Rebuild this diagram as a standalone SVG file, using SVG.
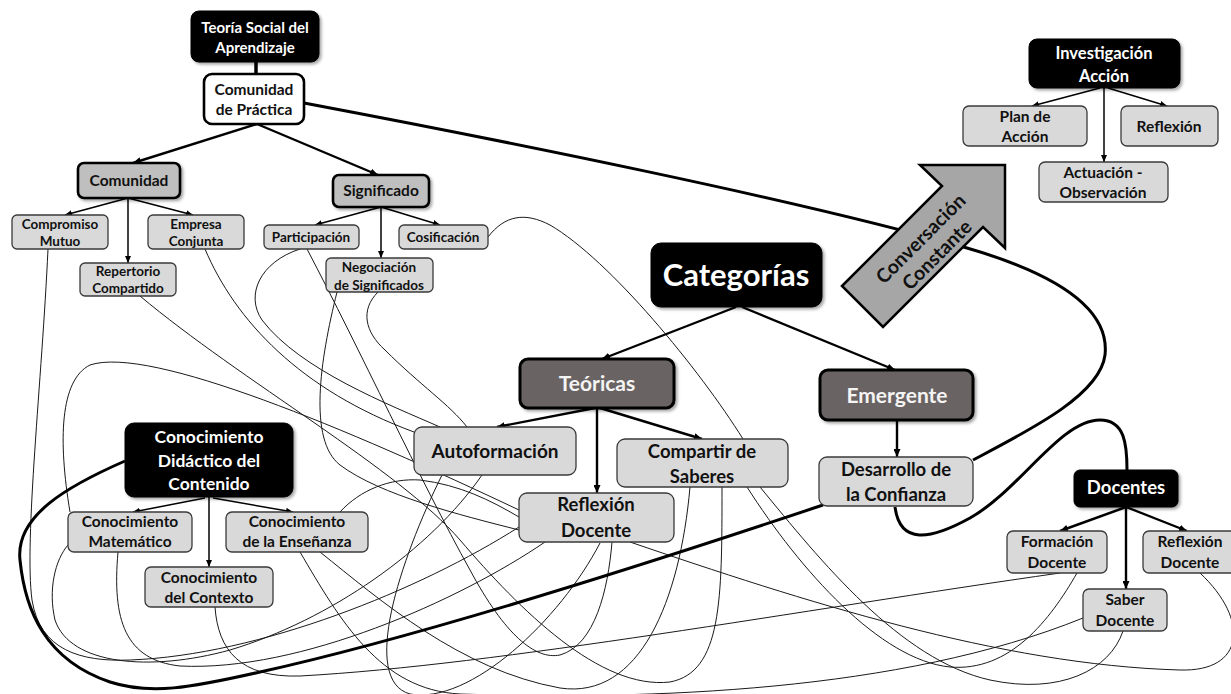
<svg xmlns="http://www.w3.org/2000/svg" width="1231" height="694" viewBox="0 0 1231 694">
  <defs>
    <marker id="arr" viewBox="0 0 8 7" refX="8" refY="3.5" markerWidth="8" markerHeight="7" markerUnits="userSpaceOnUse" orient="auto">
      <path d="M0,0 L8,3.5 L0,7 z" fill="#000"/>
    </marker>
    <marker id="arrS" viewBox="0 0 7 6" refX="7" refY="3" markerWidth="7" markerHeight="6" markerUnits="userSpaceOnUse" orient="auto">
      <path d="M0,0 L7,3 L0,6 z" fill="#000"/>
    </marker>
    <filter id="sh" x="-10%" y="-10%" width="125%" height="135%">
      <feDropShadow dx="2" dy="2" stdDeviation="1.5" flood-color="#000" flood-opacity="0.35"/>
    </filter>
  </defs>
  <style>
    text { font-family: Lato, "Liberation Sans", sans-serif; font-weight: 700; text-anchor: middle; }
    .leaf rect { fill: #d9d9d9; stroke: #3a3a3a; stroke-width: 1.3; }
    .leaf text { fill: #111; }
    .black rect { fill: #000; stroke: #000; stroke-width: 1; filter: url(#sh); }
    .black text { fill: #fff; }
    .mid rect { fill: #bfbfbf; stroke: #000; stroke-width: 2.6; filter: url(#sh); }
    .mid text { fill: #111; }
    .dark rect { fill: #6b6464; stroke: #000; stroke-width: 3; filter: url(#sh); }
    .dark text { fill: #f4f4f4; }
    .white rect { fill: #fff; stroke: #000; stroke-width: 2.6; }
    .white text { fill: #111; }
    .thin path { fill: none; stroke: #1a1a1a; stroke-width: 1; }
    .thick path { fill: none; stroke: #000; stroke-width: 3; }
    .tree line { stroke: #000; }
    .t1 { stroke-width: 2.4; marker-end: url(#arr); }
    .t2 { stroke-width: 1.5; marker-end: url(#arrS); }
  </style>

  <!-- loose thin links between categories -->
  <g id="links" class="thin">
    <path d="M48,249 C42,380 24,540 32,600 C40,650 80,662 130,660 C260,655 420,590 519,527"/>
    <path d="M140,296 C240,380 400,470 460,540 C520,610 600,690 670,682 C722,672 722,600 722,487"/>
    <path d="M205,249 C235,320 300,390 414,432"/>
    <path d="M70,512 C58,440 60,380 90,365 C150,345 350,430 519,510"/>
    <path d="M118,552 C112,620 125,660 180,666 C300,672 460,600 545,542"/>
    <path d="M215,607 C218,650 240,678 300,676 C500,665 800,610 1060,573"/>
    <path d="M300,552 C340,620 380,690 460,694 C650,700 900,692 1083,618"/>
    <path d="M320,552 C380,600 460,670 560,688 C640,700 680,600 690,487"/>
    <path d="M340,512 C360,490 390,478 420,480 C460,485 490,500 519,517"/>
    <path d="M300,249 C260,262 245,295 262,320 C300,370 390,405 440,427"/>
    <path d="M307,249 C360,350 420,480 470,570 C505,635 535,660 560,655 C595,645 608,590 612,542"/>
    <path d="M337,292 C320,360 308,440 340,465 C380,495 460,515 519,530"/>
    <path d="M378,292 C360,310 365,332 385,350 C420,385 450,405 467,427"/>
    <path d="M488,237 C505,215 525,212 550,225 C610,260 700,370 743,439"/>
    <path d="M482,475 C430,550 330,620 230,650 C150,672 70,665 55,620 C48,590 55,560 68,545"/>
    <path d="M442,475 C400,560 360,680 410,694 C470,705 560,620 600,543"/>
    <path d="M747,487 C800,570 880,660 950,667 C1010,672 1050,620 1077,573"/>
    <path d="M760,487 C820,560 900,660 990,680 C1060,695 1110,670 1123,631"/>
    <path d="M630,542 C800,600 1000,665 1180,670 C1245,672 1250,620 1200,573"/>
  </g>

  <!-- heavy links -->
  <g id="heavy" class="thick">
    <path d="M304,103 C500,140 800,200 967,248 C1060,275 1110,310 1105,355 C1100,395 1030,430 973,460"/>
    <path d="M125,461 C70,485 15,515 20,560 C25,610 45,660 110,682 C150,695 190,688 260,672 C400,641 620,573 823,505"/>
    <path d="M895,507 C900,545 930,540 970,518 C1020,490 1060,420 1100,420 C1125,420 1127,445 1127,470"/>
  </g>

  <!-- tree connectors -->
  <g id="connectors" class="tree">
    <line x1="256" y1="62" x2="256" y2="74" stroke-width="3.5"/>
    <line class="t1" x1="257" y1="124" x2="133" y2="163"/>
    <line class="t1" x1="257" y1="124" x2="378" y2="175"/>
    <line class="t2" x1="128" y1="198" x2="65" y2="215"/>
    <line class="t2" x1="128" y1="198" x2="128" y2="263"/>
    <line class="t2" x1="128" y1="198" x2="193" y2="215"/>
    <line class="t2" x1="381" y1="207" x2="315" y2="225"/>
    <line class="t2" x1="381" y1="207" x2="381" y2="258"/>
    <line class="t2" x1="381" y1="207" x2="440" y2="225"/>
    <line class="t1" x1="736" y1="307" x2="602" y2="359" stroke-width="3"/>
    <line class="t1" x1="742" y1="307" x2="895" y2="370" stroke-width="3"/>
    <line class="t1" x1="595" y1="408" x2="497" y2="427" stroke-width="2"/>
    <line class="t1" x1="597" y1="408" x2="597" y2="493" stroke-width="2"/>
    <line class="t1" x1="600" y1="408" x2="702" y2="439" stroke-width="2"/>
    <line class="t1" x1="897" y1="420" x2="897" y2="457" stroke-width="2"/>
    <line class="t1" x1="1126" y1="507" x2="1060" y2="531" stroke-width="2"/>
    <line class="t1" x1="1126" y1="507" x2="1126" y2="589" stroke-width="2"/>
    <line class="t1" x1="1126" y1="507" x2="1187" y2="531" stroke-width="2"/>
    <line class="t2" x1="205" y1="498" x2="133" y2="512"/>
    <line class="t2" x1="209" y1="497" x2="209" y2="567"/>
    <line class="t2" x1="213" y1="498" x2="293" y2="512"/>
    <line class="t2" x1="1100" y1="88" x2="1032" y2="106"/>
    <line class="t2" x1="1104" y1="88" x2="1104" y2="162"/>
    <line class="t2" x1="1108" y1="88" x2="1167" y2="106"/>
  </g>

  <!-- block arrow -->
  <g id="conversacion">
    <polygon points="842,286 942,186 920,165 1005,165 1005,248 983,227 883,327" fill="#a6a6a6" stroke="#000" stroke-width="2.5" stroke-linejoin="miter"/>
    <g transform="translate(929,247) rotate(-45)">
      <text x="0" y="-5" font-size="19.5" fill="#111">Conversación</text>
      <text x="0" y="18" font-size="19.5" fill="#111">Constante</text>
    </g>
  </g>

  <!-- nodes -->
  <g id="teoria" class="black">
    <rect x="191" y="11" width="128" height="51" rx="8"/>
    <text x="255" y="33" font-size="15">Teoría Social del</text>
    <text x="255" y="53" font-size="15">Aprendizaje</text>
  </g>
  <g id="comunidad-practica" class="white">
    <rect x="204" y="74" width="100" height="50" rx="8"/>
    <text x="254" y="95" font-size="15.5">Comunidad</text>
    <text x="254" y="115" font-size="15.5">de Práctica</text>
  </g>
  <g id="comunidad" class="mid">
    <rect x="78" y="163" width="102" height="35" rx="6"/>
    <text x="129" y="186" font-size="15.5">Comunidad</text>
  </g>
  <g id="significado" class="mid">
    <rect x="333" y="175" width="96" height="32" rx="6"/>
    <text x="381" y="196" font-size="15.5">Significado</text>
  </g>
  <g id="compromiso" class="leaf">
    <rect x="12" y="215" width="96" height="34" rx="5"/>
    <text x="60" y="229" font-size="13.5">Compromiso</text>
    <text x="60" y="246" font-size="13.5">Mutuo</text>
  </g>
  <g id="empresa" class="leaf">
    <rect x="148" y="215" width="96" height="34" rx="5"/>
    <text x="196" y="229" font-size="13.5">Empresa</text>
    <text x="196" y="246" font-size="13.5">Conjunta</text>
  </g>
  <g id="repertorio" class="leaf">
    <rect x="80" y="263" width="96" height="33" rx="5"/>
    <text x="128" y="276" font-size="13.5">Repertorio</text>
    <text x="128" y="293" font-size="13.5">Compartido</text>
  </g>
  <g id="participacion" class="leaf">
    <rect x="264" y="225" width="95" height="24" rx="5"/>
    <text x="311" y="242" font-size="13.5">Participación</text>
  </g>
  <g id="cosificacion" class="leaf">
    <rect x="399" y="225" width="89" height="24" rx="5"/>
    <text x="443" y="242" font-size="13.5">Cosificación</text>
  </g>
  <g id="negociacion" class="leaf">
    <rect x="326" y="258" width="107" height="34" rx="5"/>
    <text x="379" y="272" font-size="13.5">Negociación</text>
    <text x="379" y="290" font-size="13.5">de Significados</text>
  </g>
  <g id="categorias" class="black">
    <rect x="651" y="243" width="171" height="64" rx="10"/>
    <text x="736" y="286" font-size="31">Categorías</text>
  </g>
  <g id="teoricas" class="dark">
    <rect x="520" y="359" width="154" height="49" rx="8"/>
    <text x="597" y="391" font-size="21">Teóricas</text>
  </g>
  <g id="emergente" class="dark">
    <rect x="820" y="370" width="153" height="50" rx="8"/>
    <text x="897" y="403" font-size="21">Emergente</text>
  </g>
  <g id="autoformacion" class="leaf">
    <rect x="414" y="427" width="162" height="48" rx="8"/>
    <text x="495" y="458" font-size="19">Autoformación</text>
  </g>
  <g id="compartir" class="leaf">
    <rect x="617" y="439" width="171" height="48" rx="8"/>
    <text x="702" y="458" font-size="18.5">Compartir de</text>
    <text x="702" y="483" font-size="18.5">Saberes</text>
  </g>
  <g id="reflexion-docente" class="leaf">
    <rect x="519" y="493" width="155" height="49" rx="8"/>
    <text x="596" y="511" font-size="18.5">Reflexión</text>
    <text x="596" y="537" font-size="18.5">Docente</text>
  </g>
  <g id="desarrollo" class="leaf">
    <rect x="819" y="457" width="154" height="49" rx="8"/>
    <text x="896" y="476" font-size="18.5">Desarrollo de</text>
    <text x="896" y="501" font-size="18.5">la Confianza</text>
  </g>
  <g id="docentes" class="black">
    <rect x="1074" y="470" width="104" height="37" rx="6"/>
    <text x="1126" y="494" font-size="18.5">Docentes</text>
  </g>
  <g id="formacion-docente" class="leaf">
    <rect x="1007" y="531" width="100" height="42" rx="6"/>
    <text x="1057" y="547" font-size="15.5">Formación</text>
    <text x="1057" y="568" font-size="15.5">Docente</text>
  </g>
  <g id="reflexion-docentes" class="leaf">
    <rect x="1143" y="531" width="96" height="42" rx="6"/>
    <text x="1190" y="547" font-size="15.5">Reflexión</text>
    <text x="1190" y="568" font-size="15.5">Docente</text>
  </g>
  <g id="saber-docente" class="leaf">
    <rect x="1083" y="589" width="84" height="42" rx="6"/>
    <text x="1125" y="605" font-size="15.5">Saber</text>
    <text x="1125" y="626" font-size="15.5">Docente</text>
  </g>
  <g id="cdc" class="black">
    <rect x="125" y="423" width="168" height="74" rx="9"/>
    <text x="209" y="443" font-size="17.5">Conocimiento</text>
    <text x="209" y="467" font-size="17.5">Didáctico del</text>
    <text x="209" y="490" font-size="17.5">Contenido</text>
  </g>
  <g id="matematico" class="leaf">
    <rect x="68" y="512" width="124" height="40" rx="6"/>
    <text x="130" y="527" font-size="15.5">Conocimiento</text>
    <text x="130" y="547" font-size="15.5">Matemático</text>
  </g>
  <g id="ensenanza" class="leaf">
    <rect x="226" y="512" width="142" height="40" rx="6"/>
    <text x="297" y="527" font-size="15.5">Conocimiento</text>
    <text x="297" y="547" font-size="15.5">de la Enseñanza</text>
  </g>
  <g id="contexto" class="leaf">
    <rect x="145" y="567" width="128" height="40" rx="6"/>
    <text x="209" y="583" font-size="15.5">Conocimiento</text>
    <text x="209" y="603" font-size="15.5">del Contexto</text>
  </g>
  <g id="investigacion" class="black">
    <rect x="1029" y="39" width="151" height="49" rx="8"/>
    <text x="1104" y="59" font-size="16.5">Investigación</text>
    <text x="1104" y="82" font-size="16.5">Acción</text>
  </g>
  <g id="plan" class="leaf">
    <rect x="963" y="106" width="124" height="40" rx="6"/>
    <text x="1025" y="122" font-size="15.5">Plan de</text>
    <text x="1025" y="142" font-size="15.5">Acción</text>
  </g>
  <g id="reflexion" class="leaf">
    <rect x="1121" y="106" width="97" height="40" rx="6"/>
    <text x="1169" y="132" font-size="15.5">Reflexión</text>
  </g>
  <g id="actuacion" class="leaf">
    <rect x="1039" y="162" width="129" height="40" rx="6"/>
    <text x="1103" y="178" font-size="15.5">Actuación -</text>
    <text x="1103" y="198" font-size="15.5">Observación</text>
  </g>
</svg>
